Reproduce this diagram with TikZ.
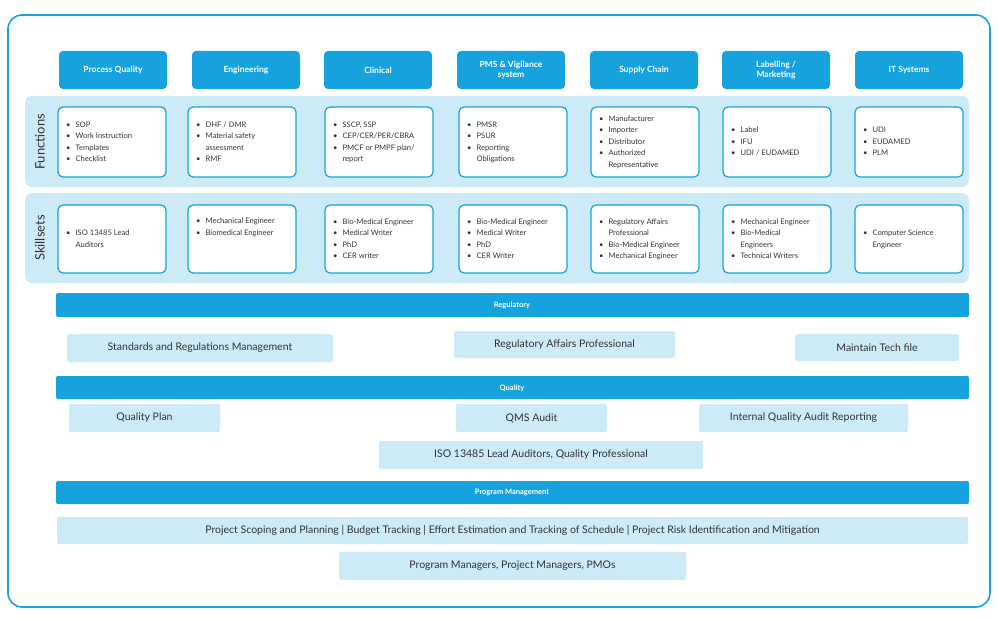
\documentclass[tikz,border=0pt]{standalone}
\usepackage{fontspec}
\setmainfont{Lato}
\begin{document}
\definecolor{bl}{HTML}{16A3DD}
\definecolor{lb}{HTML}{CDEAF7}
\definecolor{tx}{HTML}{333333}
\newcommand{\bu}{\textbullet}
\newcommand{\lst}[1]{\begin{tabular}{@{}l@{\hspace{5pt}}l@{}}#1\end{tabular}}
\begin{tikzpicture}[x=1pt,y=-1pt,
 hdr/.style={fill=bl,rounded corners=4pt,text=white,font=\fontsize{8.5}{10}\selectfont\bfseries,align=center},
 band/.style={fill=lb,rounded corners=7pt},
 card/.style={draw=bl,line width=1.2pt,fill=white,rounded corners=5pt},
 ct/.style={text=tx,font=\fontsize{7.6}{11.5}\selectfont,anchor=west,inner sep=0pt},
 bar/.style={fill=bl,rounded corners=2pt},
 bt/.style={text=white,font=\fontsize{7.5}{9}\selectfont\bfseries},
 lt/.style={fill=lb,rounded corners=2pt},
 ltt/.style={text=tx,font=\fontsize{10.5}{12}\selectfont},
 side/.style={text=tx,font=\fontsize{13}{14}\selectfont,rotate=90}]
\useasboundingbox (0,0) rectangle (998,618);
\draw[bl,line width=1.6pt,rounded corners=14pt] (8,15) rectangle (990,607);
% headers
\foreach \x/\t [count=\i] in {59/Process Quality,192/Engineering,324/Clinical,457/{PMS \& Vigilance\\system},590/Supply Chain,722/{Labelling /\\Marketing},855/IT Systems}{
 \fill[bl,rounded corners=4pt] (\x,51) rectangle ++(108,38);
 \node[hdr,fill=none] (h\i) at (\x+54,70) {\t};
}
\fill[band] (25,96) rectangle (969,187);
\fill[band] (25,193) rectangle (969,283);
\node[side] (fn) at (40,142) {Functions};
\node[side] (sk) at (40,238) {Skillsets};
\foreach \x [count=\i] in {58,188,325,459,591,723,855}{
 \draw[card] (\x,107) rectangle ++(108,70);
 \draw[card] (\x,205) rectangle ++(108,68);
}
\node[ct] (f1) at (66,142) {\lst{\bu&SOP\\\bu&Work Instruction\\\bu&Templates\\\bu&Checklist}};
\node[ct] (f2) at (196,142) {\lst{\bu&DHF / DMR\\\bu&Material safety\\&assessment\\\bu&RMF}};
\node[ct] (f3) at (333,142) {\lst{\bu&SSCP, SSP\\\bu&CEP/CER/PER/CBRA\\\bu&PMCF or PMPF plan/\\&report}};
\node[ct] (f4) at (467,142) {\lst{\bu&PMSR\\\bu&PSUR\\\bu&Reporting\\&Obligations}};
\node[ct] (f5) at (599,142) {\lst{\bu&Manufacturer\\\bu&Importer\\\bu&Distributor\\\bu&Authorized\\&Representative}};
\node[ct] (f6) at (731,142) {\lst{\bu&Label\\\bu&IFU\\\bu&UDI / EUDAMED}};
\node[ct] (f7) at (863,142) {\lst{\bu&UDI\\\bu&EUDAMED\\\bu&PLM}};
\node[ct] (s1) at (66,239) {\lst{\bu&ISO 13485 Lead\\&Auditors}};
\node[ct] (s2) at (196,227) {\lst{\bu&Mechanical Engineer\\\bu&Biomedical Engineer}};
\node[ct] (s3) at (333,239) {\lst{\bu&Bio-Medical Engineer\\\bu&Medical Writer\\\bu&PhD\\\bu&CER writer}};
\node[ct] (s4) at (467,239) {\lst{\bu&Bio-Medical Engineer\\\bu&Medical Writer\\\bu&PhD\\\bu&CER Writer}};
\node[ct] (s5) at (599,239) {\lst{\bu&Regulatory Affairs\\&Professional\\\bu&Bio-Medical Engineer\\\bu&Mechanical Engineer}};
\node[ct] (s6) at (731,239) {\lst{\bu&Mechanical Engineer\\\bu&Bio-Medical\\&Engineers\\\bu&Technical Writers}};
\node[ct] (s7) at (863,239) {\lst{\bu&Computer Science\\&Engineer}};
% regulatory
\fill[bar] (56,293) rectangle (969,317); \node[bt] (r) at (512,305) {Regulatory};
\fill[lt] (67,334) rectangle (333,362); \node[ltt] (r1) at (200,348) {Standards and Regulations Management};
\fill[lt] (454,331) rectangle (675,358); \node[ltt] (r2) at (564.5,345) {Regulatory Affairs Professional};
\fill[lt] (795,334) rectangle (959,361); \node[ltt] (r3) at (877,348) {Maintain Tech file};
% quality
\fill[bar] (56,376) rectangle (969,399); \node[bt] (q) at (512,388) {Quality};
\fill[lt] (69,404) rectangle (220,432); \node[ltt] (q1) at (144.5,418) {Quality Plan};
\fill[lt] (456,404) rectangle (607,432); \node[ltt] (q2) at (531.5,418) {QMS Audit};
\fill[lt] (699,404) rectangle (908,432); \node[ltt] (q3) at (803.5,418) {Internal Quality Audit Reporting};
\fill[lt] (379,441) rectangle (703,469); \node[ltt] (q4) at (541,455) {ISO 13485 Lead Auditors, Quality Professional};
% program
\fill[bar] (56,481) rectangle (969,504); \node[bt] (p) at (512,492.5) {Program Management};
\fill[lt] (57,517) rectangle (968,544); \node[ltt] (p1) at (512.5,530.5) {Project Scoping and Planning | Budget Tracking | Effort Estimation and Tracking of Schedule | Project Risk Identification and Mitigation};
\fill[lt] (339,552) rectangle (686,580); \node[ltt] (p2) at (512.5,566) {Program Managers, Project Managers, PMOs};
\end{tikzpicture}
\end{document}
